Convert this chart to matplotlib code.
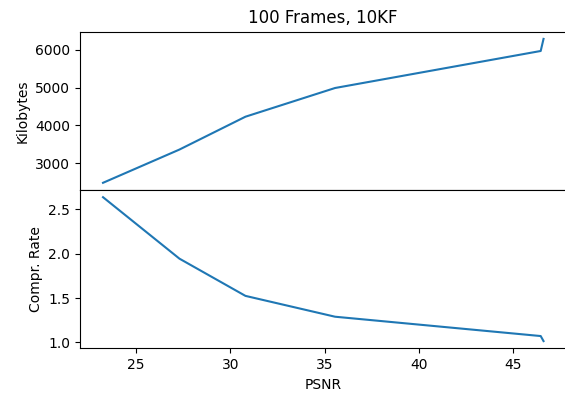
import numpy as np
import matplotlib
matplotlib.use("Agg")
import matplotlib.pyplot as plt

# PSNR vs size / compression rate
psnr = [23.25, 27.3, 30.8, 35.55, 46.45, 46.6]
kilobytes = [2480, 3360, 4230, 4990, 5970, 6290]
compr_rate = [2.638, 1.945, 1.525, 1.29, 1.072, 1.015]

fig = plt.figure(figsize=(5.65, 3.94), dpi=100)
left = 80 / 565
width = 489 / 565   # right spine falls just outside the picture
ax1 = fig.add_axes([left, 1 - 190 / 394, width, (190 - 31.7) / 394])
ax2 = fig.add_axes([left, 1 - 348.3 / 394, width, (348.3 - 190) / 394], sharex=ax1)

ax1.plot(psnr, kilobytes)
ax1.set_ylabel('Kilobytes')
ax1.set_xlim(22.03, 47.95)
ax1.tick_params(axis='x', bottom=False, labelbottom=False)
ax1.set_title('100 Frames, 10KF', x=(566 - 80) / 2 / 489)

ax2.plot(psnr, compr_rate)
ax2.set_ylabel('Compr. Rate')
ax2.set_xlabel('PSNR', x=(566 - 80) / 2 / 489)

fig.savefig('out.png', dpi=100)
